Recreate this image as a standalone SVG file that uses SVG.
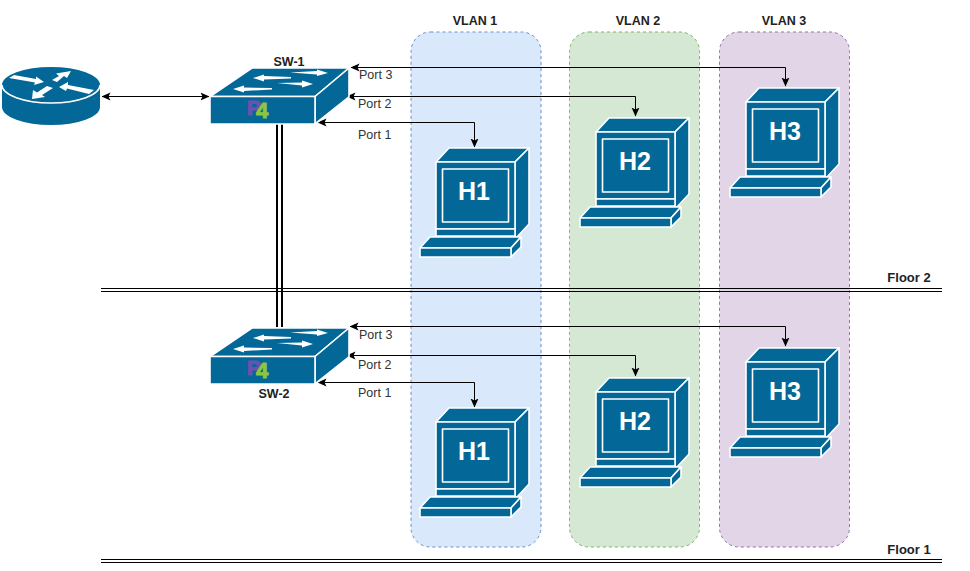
<svg xmlns="http://www.w3.org/2000/svg" xmlns:xlink="http://www.w3.org/1999/xlink" width="970" height="571" viewBox="0 0 970 571">
<style>
text{font-family:"Liberation Sans",Arial,sans-serif;fill:#000}
.lbl{font-size:12.500px;fill:#333}
.b{font-size:12.500px;font-weight:bold;text-anchor:middle;fill:#222}
.fl{font-size:13px}
.hn{font-size:25px;font-weight:bold;fill:#fff;text-anchor:middle}
.dev{fill:#036897;stroke:#fff;stroke-width:1.6;stroke-linejoin:round}
.w{fill:#fff;stroke:none}
.cs{fill:none;stroke:#000;stroke-width:1;marker-start:url(#as);marker-end:url(#a)}
.p{font-size:21px;font-weight:bold;fill:#6d50b4;stroke:#6d50b4;stroke-width:1.200;stroke-linejoin:round}
.f{font-size:22px;font-weight:bold;fill:#8cc63f;stroke:#8cc63f;stroke-width:1;stroke-linejoin:round}
.vl{stroke-dasharray:3 3;stroke-width:1}
</style>
<defs>
<marker id="a" viewBox="0 0 9 9" refX="8.500" refY="4.500" markerWidth="9" markerHeight="9" markerUnits="userSpaceOnUse" orient="auto"><path d="M0 0.500L9 4.500L0 8.500L2 4.500Z" fill="#000"/></marker>
<marker id="as" viewBox="0 0 9 9" refX="0.500" refY="4.500" markerWidth="9" markerHeight="9" markerUnits="userSpaceOnUse" orient="auto"><path d="M9 0.500L0 4.500L9 8.500L7 4.500Z" fill="#000"/></marker>
<g id="pc">
<path class="dev" d="M17 14L30 0H110L96 14Z"/>
<path class="dev" d="M96 14L110 0V76L98 89H96Z"/>
<rect class="dev" x="17" y="14" width="79" height="67"/>
<rect class="dev" x="23.500" y="21" width="66" height="53"/>
<rect class="dev" x="17" y="81" width="79" height="7"/>
<path class="dev" d="M1 100L11 89H102L92 100Z"/>
<path class="dev" d="M92 100L102 89V99L92 109Z"/>
<rect class="dev" x="1" y="100" width="91" height="9"/>
</g>
<g id="sw">
<path class="dev" d="M0 28.500L42 0H139L105 28.500Z"/>
<path class="dev" d="M105 28.500L139 0V29L105 56Z"/>
<rect class="dev" x="0" y="28.500" width="105" height="27.500"/>
<path class="w" d="M80 4.500L107 3V1.500L118 5L107 8V6.500Z"/>
<path class="w" d="M43 10L54 6.500V8L81 9V10.500L54 11.500V13.500Z"/>
<path class="w" d="M67 15L92 14.500V12.500L103 16L92 19.500V17.500Z"/>
<path class="w" d="M23 21L34 17.500V19.500L62 20V21.500L34 23V24.500Z"/>
<text class="p" x="37" y="47">P</text>
<text class="f" x="46" y="50">4</text>
</g>
</defs>
<rect width="970" height="571" fill="#fff"/>
<g id="vlans">
<g id="vlan1"><rect class="vl" x="411" y="32" width="130" height="515" rx="19.500" fill="#dae8fc" stroke="#6c8ebf"/><text class="b" x="475" y="25">VLAN 1</text></g>
<g id="vlan2"><rect class="vl" x="569.500" y="32" width="130" height="515" rx="19.500" fill="#d5e8d4" stroke="#82b366"/><text class="b" x="638" y="25">VLAN 2</text></g>
<g id="vlan3"><rect class="vl" x="719.500" y="32" width="130" height="515" rx="19.500" fill="#e1d5e7" stroke="#9673a6"/><text class="b" x="784" y="25">VLAN 3</text></g>
</g>
<g id="floors">
<g id="floor2"><path d="M101 288.500H942M101 291.500H942" stroke="#000" stroke-width="1" fill="none"/><text class="b fl" x="909" y="282">Floor 2</text></g>
<g id="floor1"><path d="M101 559.500H942M101 562.500H942" stroke="#000" stroke-width="1" fill="none"/><text class="b fl" x="909" y="554">Floor 1</text></g>
</g>
<g id="connectors">
<path class="cs" d="M102 96.500H209"/>
<path d="M277 124V327M282 124V327" stroke="#000" stroke-width="2" fill="none"/>
<path class="cs" d="M351 67.500H785.500V86"/>
<path class="cs" d="M347 96.500H635.500V116"/>
<path class="cs" d="M318 122.500H474.500V147"/>
<path class="cs" d="M350 326.500H785.500V346"/>
<path class="cs" d="M347 355.500H635.500V376"/>
<path class="cs" d="M318 382.500H474.500V407"/>
</g>
<g id="router">
<path d="M2 85V107A49 18 0 0 0 100 107V85Z" fill="#036897"/>
<ellipse cx="51" cy="85" rx="49" ry="18" fill="#036897"/>
<path d="M2 85A49 18 0 0 0 100 85" fill="none" stroke="#fff" stroke-width="1.500"/>
<path class="w" d="M9 78L14 75L36 79L36 76.500L44 82L34 85L35 82.500Z"/>
<path class="w" d="M52 80L59 76L56 73.500L71 71L67 78L64 76L57 82Z"/>
<path class="w" d="M59 87L68 82L68 85L94 90L89 94L67 88.500L66 91Z"/>
<path class="w" d="M32 99L33 90L37 92.500L47 86L53 88L42 95L45 97Z"/>
</g>
<g id="sw1"><use href="#sw" x="210" y="68"/><text class="b" x="289" y="66">SW-1</text></g>
<g id="sw2"><use href="#sw" x="210" y="328"/><text class="b" x="274" y="398">SW-2</text></g>
<g id="h1a"><use href="#pc" x="419" y="148"/><text class="hn" x="474" y="200">H1</text></g>
<g id="h2a"><use href="#pc" x="579" y="118"/><text class="hn" x="635" y="170">H2</text></g>
<g id="h3a"><use href="#pc" x="729" y="88"/><text class="hn" x="785" y="140">H3</text></g>
<g id="h1b"><use href="#pc" x="419" y="408"/><text class="hn" x="474" y="460">H1</text></g>
<g id="h2b"><use href="#pc" x="579" y="378"/><text class="hn" x="635" y="430">H2</text></g>
<g id="h3b"><use href="#pc" x="729" y="348"/><text class="hn" x="785" y="400">H3</text></g>
<g id="labels">
<text class="lbl" x="359" y="79">Port 3</text>
<text class="lbl" x="358" y="108">Port 2</text>
<text class="lbl" x="358" y="139">Port 1</text>
<text class="lbl" x="359" y="339">Port 3</text>
<text class="lbl" x="358" y="369">Port 2</text>
<text class="lbl" x="358" y="397">Port 1</text>
</g>
</svg>
